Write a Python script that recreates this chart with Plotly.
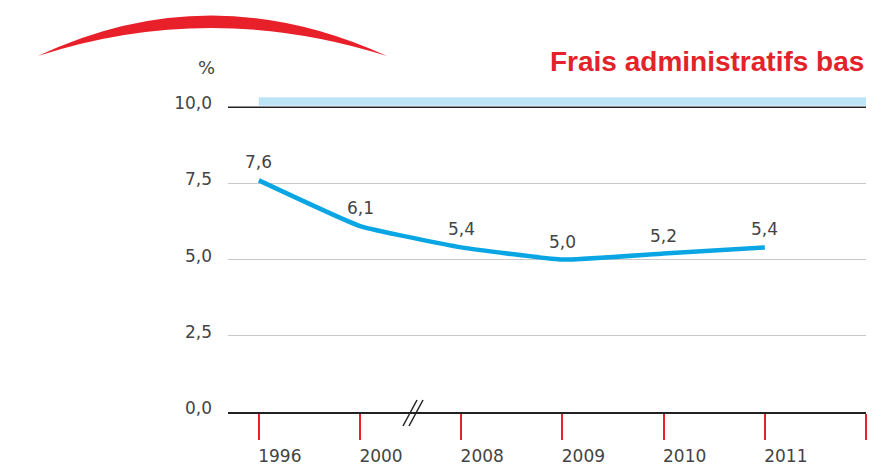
import plotly.graph_objects as go

years = ["1996", "2000", "2008", "2009", "2010", "2011"]
values = [7.6, 6.1, 5.4, 5.0, 5.2, 5.4]
y_ticks = [0, 2.5, 5, 7.5, 10]
title_text = "Frais administratifs bas"
unit_text = "%"

W, H = 891, 468
L, R, T, B = 228, 25, 95, 56
PW, PH = W - L - R, H - T - B

FONT = "DejaVu Sans, Liberation Sans, Arial, sans-serif"
TXT = "#444444"


def px(x):
    return (x - L) / PW


def py(y):
    return (H - B - y) / PH


xi = list(range(len(years)))

fig = go.Figure()
fig.add_trace(go.Scatter(
    x=xi, y=values, mode="lines",
    line=dict(color="#0aa6e4", width=4.5, shape="spline", smoothing=0.35),
    hoverinfo="skip", showlegend=False,
))

shapes = []
# light blue band above 10
shapes.append(dict(type="rect", xref="x", yref="y", x0=0, x1=len(years), y0=10.05, y1=10.33,
                   fillcolor="#bce4f7", line=dict(width=0), layer="below"))
# black line at 10
shapes.append(dict(type="line", xref="paper", yref="y", x0=0, x1=1, y0=10, y1=10,
                   line=dict(color="#222222", width=1.5)))
# red arc
ax0, ay0, ax1, ay1 = 38, 56, 387, 56
outer_c, inner_c = (210, -25), (210, 0)
path = (f"M {px(ax0)},{py(ay0)} Q {px(outer_c[0])},{py(outer_c[1])} {px(ax1)},{py(ay1)} "
        f"Q {px(inner_c[0])},{py(inner_c[1])} {px(ax0)},{py(ay0)} Z")
shapes.append(dict(type="path", xref="paper", yref="paper", path=path,
                   fillcolor="#e8202a", line=dict(width=0)))
# axis break slashes
for x0 in (403, 409):
    shapes.append(dict(type="line", xref="paper", yref="paper",
                       x0=px(x0), y0=py(426), x1=px(x0 + 14), y1=py(400),
                       line=dict(color="#222222", width=1.5)))

annotations = [
    dict(text=f"<b>{title_text}</b>", xref="paper", yref="paper", x=1, y=py(62),
         xanchor="right", yanchor="middle", showarrow=False,
         font=dict(family="Liberation Sans, Arial, sans-serif", size=28, color="#e42229")),
    dict(text=unit_text, xref="paper", yref="paper", x=px(206), y=py(67),
         xanchor="center", yanchor="middle", showarrow=False,
         font=dict(family=FONT, size=18, color=TXT)),
]
for i, v in enumerate(values):
    annotations.append(dict(text=f"{v:.1f}".replace(".", ","), x=i, y=v, xref="x", yref="y",
                            yshift=18, xanchor="center", yanchor="middle", showarrow=False,
                            font=dict(family=FONT, size=17, color=TXT)))

fig.update_layout(
    width=W, height=H,
    margin=dict(l=L, r=R, t=T, b=B),
    paper_bgcolor="white", plot_bgcolor="white",
    separators=", ",
    font=dict(family=FONT, size=17, color=TXT),
    shapes=shapes,
    annotations=annotations,
    xaxis=dict(
        range=[-0.305, len(years)], tickmode="array",
        tickvals=list(range(len(years) + 1)), ticktext=years + [""],
        ticks="outside", ticklen=26, tickcolor="#e8202a", tickwidth=1.5,
        ticklabelshift=21, ticklabelstandoff=2, automargin=False,
        showgrid=False, zeroline=False, showline=True, linecolor="#222222", linewidth=1.5,
        tickfont=dict(family=FONT, size=17, color=TXT), fixedrange=True,
    ),
    yaxis=dict(
        range=[0, 10.4], tickmode="array", tickvals=y_ticks, tickformat=".1f",
        showgrid=True, gridcolor="#c8c8c8", gridwidth=1, zeroline=False, showline=False,
        ticks="", ticklabelstandoff=15, ticklabelshift=-4, automargin=False,
        tickfont=dict(family=FONT, size=17, color=TXT),
        fixedrange=True,
    ),
)

fig.write_html("out.html", config={"displayModeBar": False},
               post_script="document.body.style.margin='0';document.body.style.overflow='hidden';")
